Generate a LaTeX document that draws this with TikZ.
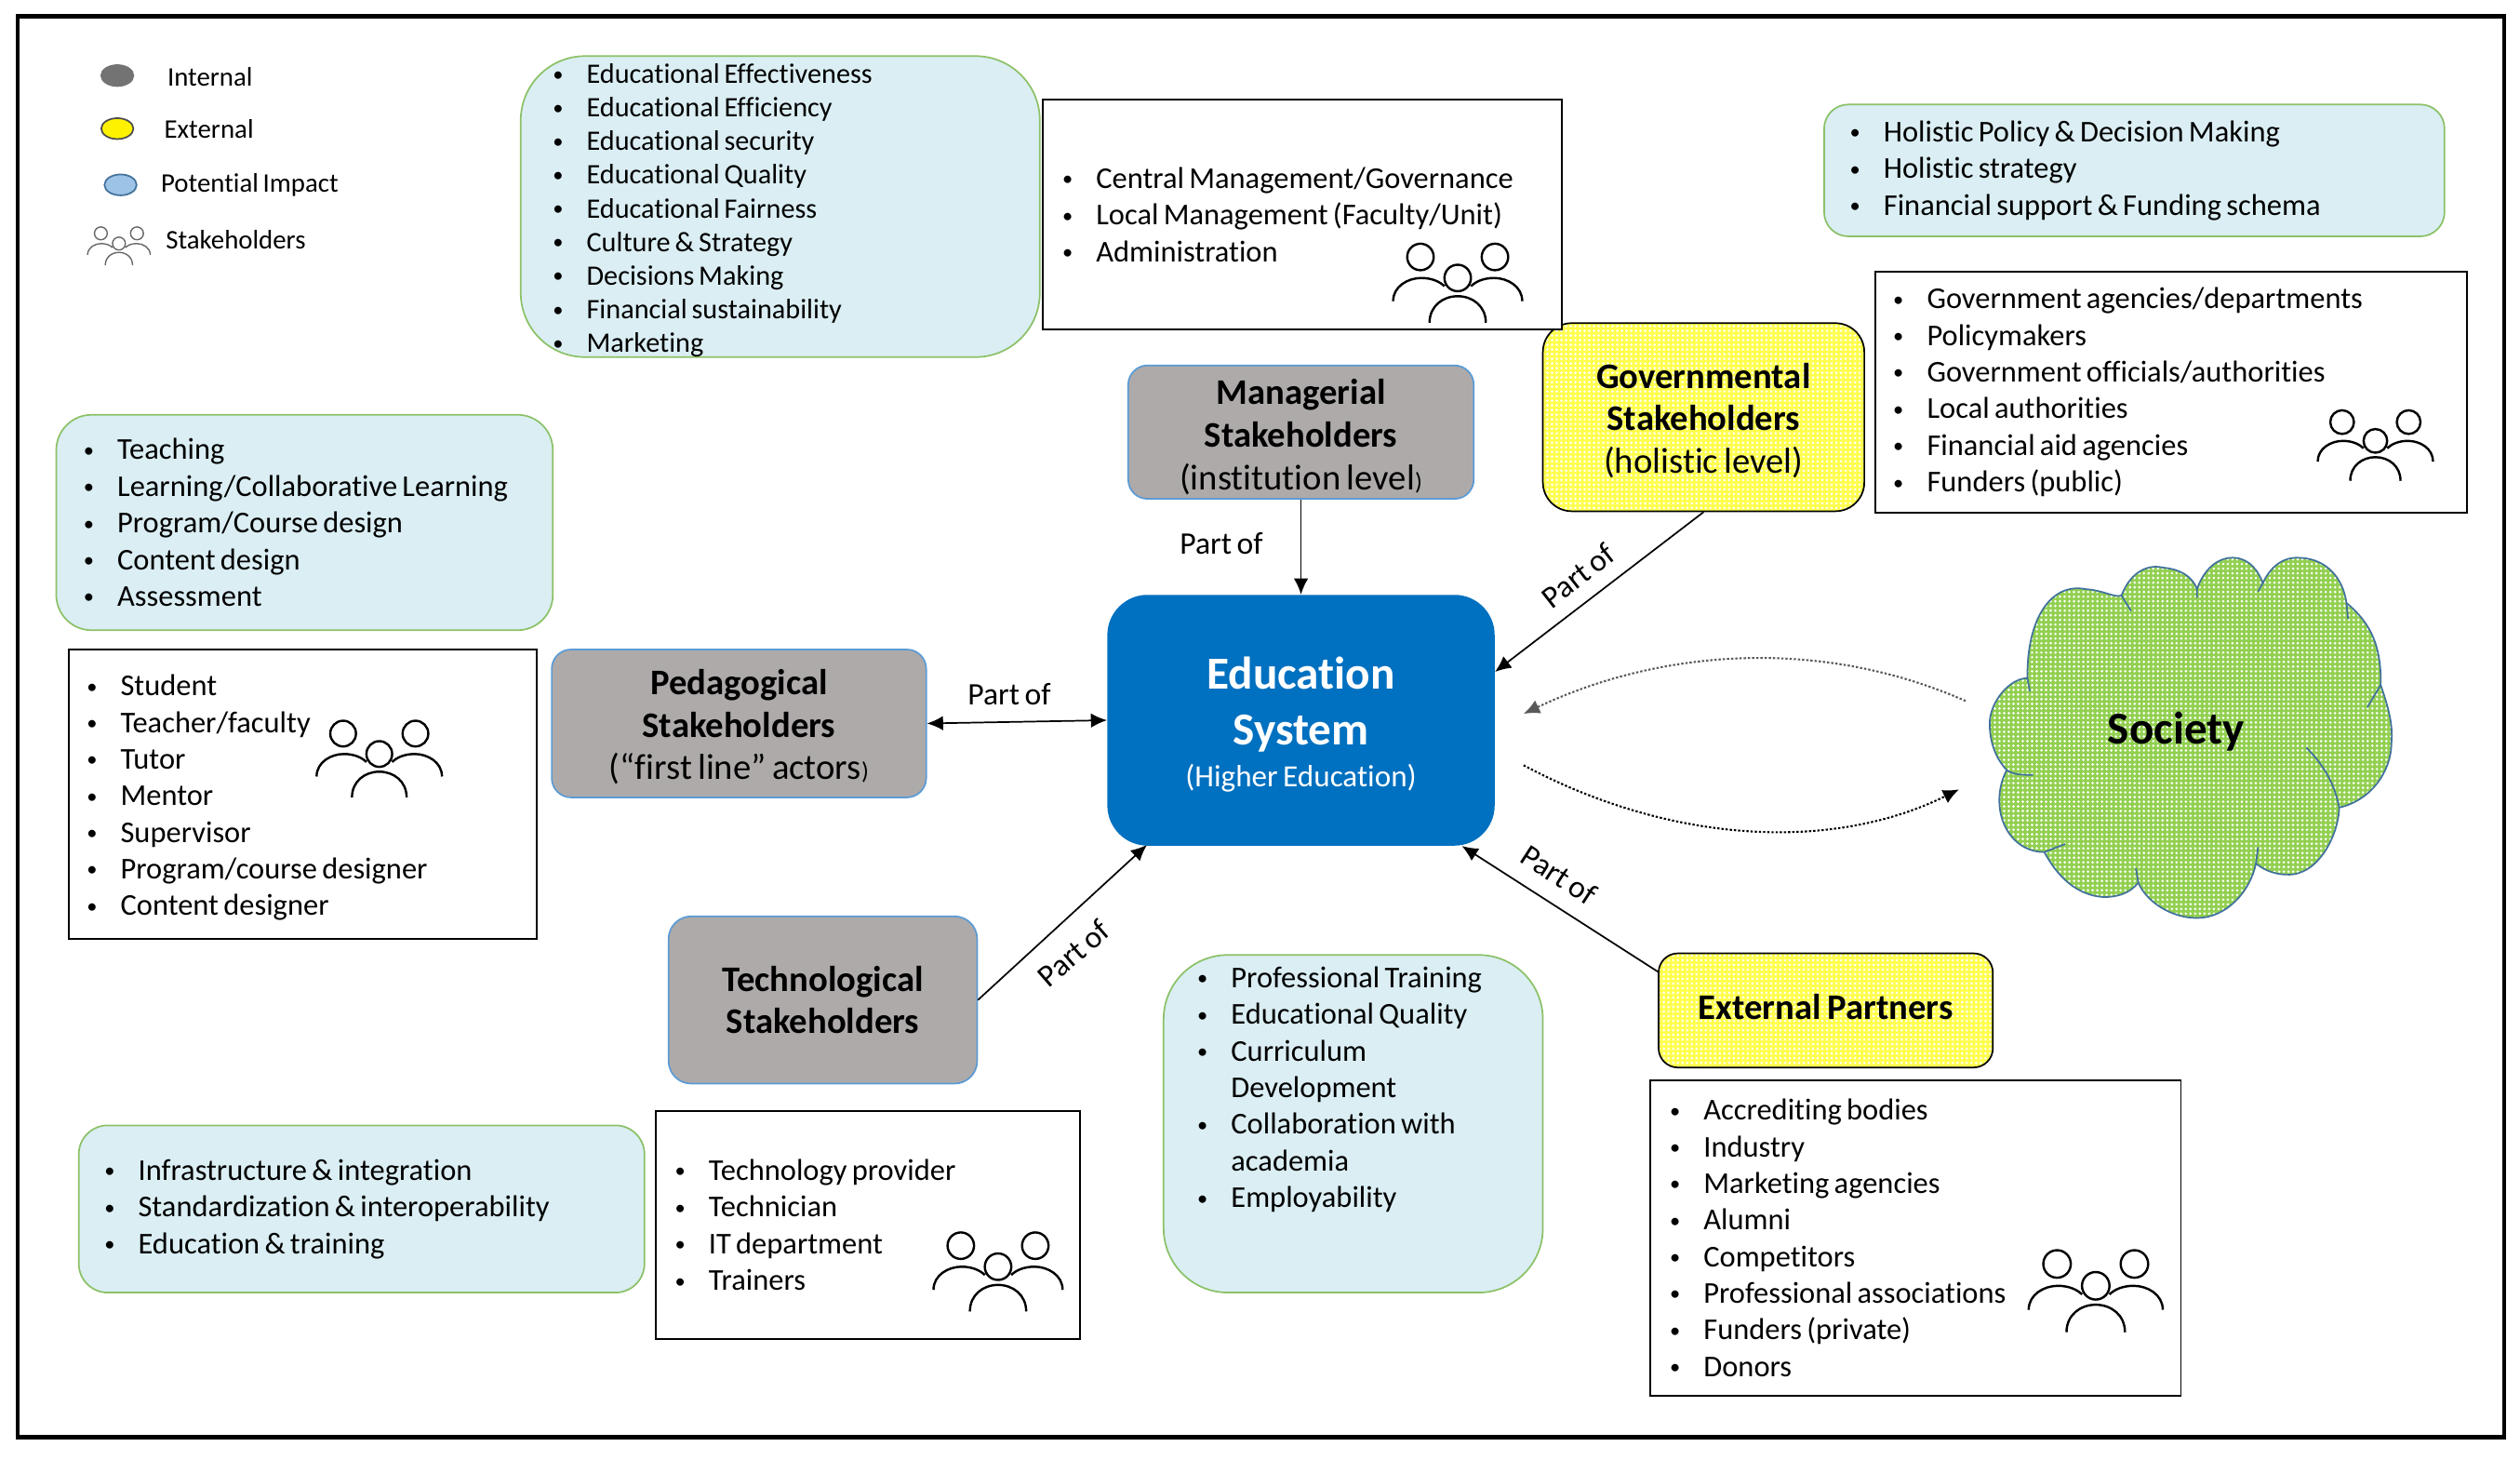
\documentclass[tikz,border=0pt]{standalone}
\usepackage{fontspec}
\setmainfont[WordSpace=0.72,Ligatures=NoCommon]{Carlito}
\usepackage{xcolor}
\usetikzlibrary{shapes,arrows.meta,positioning,patterns.meta}

\definecolor{greybox}{HTML}{AEAAAA}
\definecolor{blueline}{HTML}{5B9BD5}
\definecolor{edublue}{HTML}{0070C0}
\definecolor{paleblue}{HTML}{DAEEF3}
\definecolor{greenline}{HTML}{8CC168}
\definecolor{softyellow}{HTML}{FFFF4D}
\definecolor{cloudgreen}{HTML}{92D050}
\definecolor{cloudline}{HTML}{41719C}
\newcommand{\bulletline}[1]{\makebox[21pt][l]{\raisebox{0.08em}{\fontsize{13}{13}\selectfont\textbullet}}#1}
\newcommand{\bulletgap}{\makebox[21pt][l]{}}

\begin{document}
\begin{tikzpicture}[x=1pt, y=-1pt,
    listfont/.style={font=\fontsize{18.8}{22.8}\selectfont},
    listbox/.style={rectangle, draw=black, line width=1pt, fill=white, align=flush left, listfont},
    focusbox/.style={rectangle, draw=greenline, line width=1pt, fill=paleblue, align=flush left, listfont},
    dither/.style={preaction={fill=#1}, pattern={Dots[distance=2.9pt,radius=0.85pt]}, pattern color=white},
    stakeint/.style={rectangle, draw=blueline, line width=1pt, fill=greybox, rounded corners=12pt, align=center, font=\fontsize{22.4}{26.5}\selectfont},
    stakeext/.style={rectangle, draw=black, line width=1pt, dither=softyellow, rounded corners=15pt, align=center, font=\fontsize{22.4}{26.5}\selectfont},
    legendmark/.style={ellipse, minimum width=20pt, minimum height=13pt, inner sep=0pt, line width=1pt},
    legendtext/.style={anchor=west, inner sep=0pt, font=\fontsize{16.7}{17}\selectfont},
    partlabel/.style={inner sep=0pt, font=\fontsize{19.5}{20}\selectfont},
    arrow/.style={-{Latex[length=10pt,width=9pt]}, line width=1pt},
    dotarrow/.style={-{Latex[length=10pt,width=9pt]}, line width=1.2pt, dash pattern=on 1.4pt off 1.2pt},
    peopleicon/.pic={
      \draw[fill=none] (-22.5,-15.7) circle (8) (22.5,-15.7) circle (8) (0,-3) circle (8)
        (-39,11) .. controls (-39,2) and (-30,-3) .. (-22,-3) .. controls (-16,-3) and (-11,-1) .. (-8,2)
        (39,11) .. controls (39,2) and (30,-3) .. (22,-3) .. controls (16,-3) and (11,-1) .. (8,2)
        (-17,24) .. controls (-17,14) and (-9,8) .. (0,8) .. controls (9,8) and (17,14) .. (17,24);
    }]
  \useasboundingbox (0,0) rectangle (1568,907.6);
  \draw[line width=2.6pt] (11,10) rectangle (1558,894);

  % legend
  \node[legendmark, fill=gray!90!black, draw=gray!90!black] (lgint) at (73,47) {};
  \node[legendmark, fill=yellow, draw=gray!60!black] (lgext) at (73,80) {};
  \node[legendmark, fill=blueline!60, draw=cloudline] (lgpot) at (75,115) {};
  \node[legendtext] (lgintt) at (104,48) {Internal};
  \node[legendtext] (lgextt) at (102,80) {External};
  \node[legendtext] (lgpott) at (100,115) {Potential Impact};
  \node[legendtext] (lgstat) at (103,149) {Stakeholders};
  \pic[scale=0.5, line width=0.8pt, draw=black!60] at (74,153) {peopleicon};

  % stakeholder groups
  \node[rectangle, fill=edublue, rounded corners=25pt, minimum width=241pt, minimum height=156pt, inner sep=0pt, text=white, align=center, font=\fontsize{28.5}{35}\selectfont] (edu) at (809.5,448)
    {\rule{0pt}{25pt}\textbf{Education}\\\textbf{System}\\[-9pt]{\fontsize{19.2}{24}\selectfont (Higher Education)}};
  \node[stakeint, minimum width=215pt, minimum height=83pt, inner sep=0pt, above=59pt of edu] (mgmt)
    {\rule{0pt}{22pt}\textbf{Managerial}\\\textbf{Stakeholders}\\(institution level{\fontsize{15}{15}\selectfont)}};
  \node[stakeint, minimum width=233pt, minimum height=92pt, inner sep=0pt, left=112pt of edu, yshift=-2pt] (ped)
    {\rule{0pt}{20pt}\textbf{Pedagogical}\\\textbf{Stakeholders}\\(“first line” actors{\fontsize{15}{15}\selectfont)}};
  \node[stakeint, rounded corners=14pt, minimum width=192pt, minimum height=104pt, inner sep=0pt] (tech) at (512,622)
    {\textbf{Technological}\\\textbf{Stakeholders}};
  \node[stakeext, rounded corners=18pt, minimum width=200pt, minimum height=117pt, inner sep=0pt] (gov) at (1060,259.5)
    {\rule{0pt}{20pt}\textbf{Governmental}\\\textbf{Stakeholders}\\(holistic level)};
  \node[stakeext, rounded corners=12pt, minimum width=208pt, minimum height=71pt, inner sep=0pt] (ext) at (1136,628.5)
    {\rule[-4pt]{0pt}{4pt}\textbf{External Partners}};

  % what each group cares about
  \node[focusbox, rounded corners=40pt, inner xsep=20pt, inner ysep=0pt, text width=283pt, minimum height=185pt, font=\fontsize{17.5}{20.9}\selectfont] (mgmtfocus) at (485.5,128.5)
    {\rule{0pt}{17pt}\bulletline{Educational Effectiveness}\\\bulletline{Educational Efficiency}\\\bulletline{Educational security}\\\bulletline{Educational Quality}\\\bulletline{Educational Fairness}\\\bulletline{Culture \& Strategy}\\\bulletline{Decisions Making}\\\bulletline{Financial sustainability}\\\bulletline{Marketing}};
  \node[focusbox, rounded corners=15pt, inner xsep=16pt, inner ysep=0pt, text width=354pt, minimum height=82pt] (govfocus) at (1328,106)
    {\bulletline{Holistic Policy \& Decision Making}\\\bulletline{Holistic strategy}\\\bulletline{Financial support \& Funding schema}};
  \node[focusbox, rounded corners=22pt, inner xsep=17pt, inner ysep=0pt, text width=275pt, minimum height=134pt] (pedfocus) at (189.5,325)
    {\bulletline{Teaching}\\\bulletline{Learning/Collaborative Learning}\\\bulletline{Program/Course design}\\\bulletline{Content design}\\\bulletline{Assessment}};
  \node[focusbox, rounded corners=18pt, inner xsep=16pt, inner ysep=0pt, text width=320pt, minimum height=104pt] (techfocus) at (225,752)
    {\bulletline{Infrastructure \& integration}\\\bulletline{Standardization \& interoperability}\\\bulletline{Education \& training}};
  \node[focusbox, rounded corners=40pt, inner xsep=21pt, inner ysep=0pt, text width=194pt, minimum height=210pt] (extfocus) at (842,699)
    {\bulletline{Professional Training}\\\bulletline{Educational Quality}\\\bulletline{Curriculum}\\\bulletgap Development\\\bulletline{Collaboration with}\\\bulletgap academia\\\bulletline{Employability}\\~\\~};

  % who is in each group
  \node[listbox, inner xsep=12pt, inner ysep=0pt, text width=299pt, minimum height=143pt] (mgmtlist) at (810.5,133.5)
    {\bulletline{Central Management/Governance}\\\bulletline{Local Management (Faculty/Unit)}\\\bulletline{Administration}};
  \node[listbox, inner xsep=11pt, inner ysep=0pt, text width=346pt, minimum height=150pt] (govlist) at (1351,244)
    {\bulletline{Government agencies/departments}\\\bulletline{Policymakers}\\\bulletline{Government officials/authorities}\\\bulletline{Local authorities}\\\bulletline{Financial aid agencies}\\\bulletline{Funders (public)}};
  \node[listbox, inner xsep=11pt, inner ysep=0pt, text width=269pt, minimum height=180pt] (pedlist) at (188.5,494)
    {\rule{0pt}{17.5pt}\bulletline{Student}\\\bulletline{Teacher/faculty}\\\bulletline{Tutor}\\\bulletline{Mentor}\\\bulletline{Supervisor}\\\bulletline{Program/course designer}\\\bulletline{Content designer}};
  \node[listbox, inner xsep=12pt, inner ysep=0pt, text width=240pt, minimum height=142pt] (techlist) at (540,762)
    {\bulletline{Technology provider}\\\bulletline{Technician}\\\bulletline{IT department}\\\bulletline{Trainers}};
  \node[listbox, inner xsep=12pt, inner ysep=0pt, text width=306pt, minimum height=196pt] (extlist) at (1192,770)
    {\bulletline{Accrediting bodies}\\\bulletline{Industry}\\\bulletline{Marketing agencies}\\\bulletline{Alumni}\\\bulletline{Competitors}\\\bulletline{Professional associations}\\\bulletline{Funders (private)}\\\bulletline{Donors}};
  \pic[scale=1.03, line width=1.4pt] at (907,176) {peopleicon};
  \pic[scale=0.92, line width=1.4pt] at (1478,277) {peopleicon};
  \pic[line width=1.4pt] at (236,472) {peopleicon};
  \pic[scale=1.03, line width=1.4pt] at (621,791) {peopleicon};
  \pic[scale=1.07, line width=1.4pt] at (1304,803) {peopleicon};

  % society
  \draw[dither=cloudgreen, draw=cloudline, line width=1pt] (1261.5,421.8)
    .. controls (1261,385) and (1276,362) .. (1298,366.5)
    .. controls (1308,367) and (1316,372) .. (1320,370.4)
    .. controls (1326,355) and (1337,351) .. (1345.5,353)
    .. controls (1356,354) and (1364,358) .. (1367,366.5)
    .. controls (1372,352) and (1382,346) .. (1391,347)
    .. controls (1400,348) and (1405,355) .. (1408,362.6)
    .. controls (1414,350) and (1423,346) .. (1432,347)
    .. controls (1448,348) and (1458,360) .. (1460,375)
    .. controls (1472,385) and (1482,398) .. (1481.3,426)
    .. controls (1486,440) and (1489,450) .. (1488,462)
    .. controls (1488,480) and (1475,498) .. (1455.5,502.3)
    .. controls (1455,520) and (1442,545) .. (1423,544)
    .. controls (1414,544) and (1407,540) .. (1403.7,537)
    .. controls (1400,555) and (1385,571) .. (1367,571)
    .. controls (1350,571) and (1335,560) .. (1330.5,549)
    .. controls (1325,556) and (1317,558) .. (1309,558)
    .. controls (1292,557) and (1280,545) .. (1272,530)
    .. controls (1255,530) and (1244,515) .. (1244,498)
    .. controls (1244,490) and (1246,484) .. (1248.6,479)
    .. controls (1242,472) and (1238,462) .. (1238,450)
    .. controls (1238,437) and (1250,422) .. (1261.5,421.8) -- cycle;
  \draw[draw=cloudline, line width=1pt]
    (1261.5,421.8) -- (1263,430) (1320,370.4) -- (1326,380) (1367,366.5) -- (1367,372)
    (1408,362.6) -- (1405,368) (1460,375) -- (1461,385) (1481.3,426) -- (1473,440)
    (1435,465) .. controls (1448,478) and (1453,490) .. (1455.5,502.3)
    (1248.6,479) .. controls (1253,482) and (1258,482) .. (1265,482)
    (1272,530) -- (1285,525) (1330.5,549) -- (1329,540) (1403.7,537) -- (1405,527);
  \node[font=\fontsize{28.4}{30}\selectfont\bfseries, inner sep=0pt] (society) at (1354,455) {Society};

  % part of links
  \draw[arrow] (mgmt.south) -- (edu.north);
  \draw[arrow] (gov.south) -- (edu.14.4);
  \draw[arrow, {Latex[length=10pt,width=9pt]}-{Latex[length=10pt,width=9pt]}] (ped.east) -- (edu.west);
  \draw[arrow, shorten >=-1pt] (tech.east) -- (edu.219);
  \draw[arrow] (ext.167.3) -- (edu.322);
  \node[partlabel] (partmgmt) at (760,338) {Part of};
  \node[partlabel, rotate=38] (partgov) at (982,358) {Part of};
  \node[partlabel] (partped) at (628,432) {Part of};
  \node[partlabel, rotate=41] (parttech) at (668,593) {Part of};
  \node[partlabel, rotate=-33] (partext) at (970,544) {Part of};

  % impact on society
  \coordinate (socout) at (1223,436);
  \coordinate (eduin) at (948,444);
  \coordinate (eduout) at (948,476);
  \coordinate (socin) at (1219,491);
  \draw[dotarrow, gray!70!black] (socout) .. controls (1130,395) and (1030,405) .. (eduin);
  \draw[dotarrow] (eduout) .. controls (1040,525) and (1140,530) .. (socin);
\end{tikzpicture}
\end{document}
